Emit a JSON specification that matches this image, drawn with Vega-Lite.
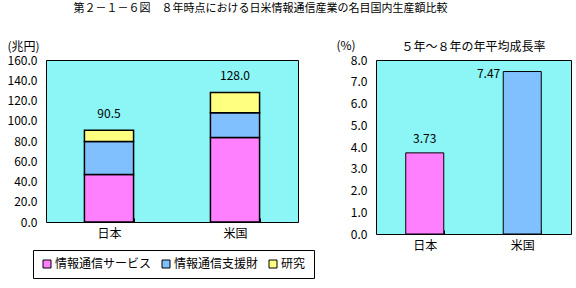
{
  "$schema": "https://vega.github.io/schema/vega-lite/v6.json",
  "padding": {"left": 6, "top": 2, "right": 5, "bottom": 5},
  "background": "white",
  "title": {
    "text": "第２－１－６図　８年時点における日米情報通信産業の名目国内生産額比較",
    "font": "Noto Sans CJK JP",
    "fontSize": 11,
    "fontWeight": "normal",
    "anchor": "start",
    "dx": 67,
    "offset": 25,
    "color": "black"
  },
  "config": {
    "font": "Noto Sans CJK JP",
    "view": {"fill": "#8CF5F5", "stroke": "black", "strokeWidth": 1},
    "axis": {
      "labelFont": "Noto Sans CJK JP",
      "titleFont": "Noto Sans CJK JP",
      "labelFontSize": 12,
      "titleFontSize": 12,
      "titleFontWeight": "normal",
      "labelColor": "black",
      "titleColor": "black",
      "grid": false,
      "domain": false,
      "labelOverlap": false
    },
    "axisY": {"labelOverlap": false}
  },
  "spacing": 20,
  "resolve": {"scale": {"color": "independent", "x": "independent", "y": "independent"}},
  "hconcat": [
    {
      "width": 252,
      "height": 162,
      "layer": [
        {
          "data": {
            "values": [
              {"country": "日本", "category": "情報通信サービス", "value": 47.0},
              {"country": "日本", "category": "情報通信支援財", "value": 32.5},
              {"country": "日本", "category": "研究", "value": 11.0},
              {"country": "米国", "category": "情報通信サービス", "value": 83.5},
              {"country": "米国", "category": "情報通信支援財", "value": 24.5},
              {"country": "米国", "category": "研究", "value": 20.0}
            ]
          },
          "mark": {"type": "bar", "stroke": "black", "strokeWidth": 1.5},
          "encoding": {
            "x": {
              "field": "country", "type": "nominal", "sort": ["日本", "米国"],
              "scale": {"paddingInner": 0.61, "paddingOuter": 0.305},
              "axis": {"title": null, "labelAngle": 0, "ticks": true, "tickBand": "extent", "tickSize": -4, "tickColor": "black", "labelPadding": 10}
            },
            "y": {
              "field": "value", "type": "quantitative", "stack": "zero",
              "scale": {"domain": [0, 160], "nice": false},
              "axis": {
                "values": [0, 20, 40, 60, 80, 100, 120, 140, 160],
                "format": ".1f", "ticks": false, "tickSize": 0, "labelPadding": 9,
                "labelOverlap": false, "labelBound": false, "labelFlush": false,
                "title": "(兆円)", "titleAngle": 0, "titleAlign": "left", "titleBaseline": "middle",
                "titleX": -39, "titleY": -14
              }
            },
            "color": {
              "field": "category", "type": "nominal",
              "sort": ["情報通信サービス", "情報通信支援財", "研究"],
              "scale": {"domain": ["情報通信サービス", "情報通信支援財", "研究"], "range": ["#FF80FF", "#80C0FF", "#FFFF80"]},
              "legend": {
                "title": null, "orient": "none", "direction": "horizontal",
                "legendX": -13, "legendY": 190,
                "strokeColor": "black", "fillColor": "white", "padding": 8,
                "symbolType": "square", "symbolSize": 64, "symbolStrokeColor": "black", "symbolStrokeWidth": 1, "symbolOpacity": 1,
                "labelFont": "Noto Sans CJK JP", "labelFontSize": 12, "labelColor": "black",
                "columnPadding": 8, "labelOffset": 2
              }
            },
            "order": {"field": "category", "sort": "ascending"}
          }
        },
        {
          "data": {
            "values": [
              {"country": "日本", "total": 90.5},
              {"country": "米国", "total": 128.0}
            ]
          },
          "mark": {"type": "text", "dy": -9, "baseline": "bottom", "fontSize": 12, "color": "black"},
          "encoding": {
            "x": {
              "field": "country", "type": "nominal", "sort": ["日本", "米国"],
              "axis": {"title": null, "labelAngle": 0, "ticks": true, "tickBand": "extent", "tickSize": -4, "tickColor": "black", "labelPadding": 10}
            },
            "y": {
              "field": "total", "type": "quantitative",
              "axis": {
                "values": [0, 20, 40, 60, 80, 100, 120, 140, 160],
                "format": ".1f", "ticks": false, "tickSize": 0, "labelPadding": 9,
                "labelOverlap": false, "labelBound": false, "labelFlush": false,
                "title": "(兆円)", "titleAngle": 0, "titleAlign": "left", "titleBaseline": "middle",
                "titleX": -39, "titleY": -14
              }
            },
            "text": {"field": "total", "type": "quantitative", "format": ".1f"}
          }
        }
      ]
    },
    {
      "width": 195,
      "height": 174,
      "title": {"text": "５年～８年の年平均成長率", "fontSize": 12, "fontWeight": "normal", "font": "Noto Sans CJK JP", "offset": -15, "color": "black"},
      "data": {
        "values": [
          {"country": "日本", "rate": 3.73},
          {"country": "米国", "rate": 7.47}
        ]
      },
      "encoding": {
        "x": {
          "field": "country", "type": "nominal", "sort": ["日本", "米国"],
          "scale": {"paddingInner": 0.61, "paddingOuter": 0.305},
          "axis": {"title": null, "labelAngle": 0, "ticks": true, "tickBand": "extent", "tickSize": -4, "tickColor": "black", "labelPadding": 10}
        },
        "y": {
          "field": "rate", "type": "quantitative",
          "scale": {"domain": [0, 8], "nice": false},
          "axis": {
            "values": [0, 1, 2, 3, 4, 5, 6, 7, 8],
            "format": ".1f", "ticks": false, "tickSize": 0, "labelPadding": 9,
            "labelOverlap": false, "labelBound": false, "labelFlush": false,
            "title": "(%)", "titleAngle": 0, "titleAlign": "left", "titleBaseline": "middle",
            "titleX": -40, "titleY": -15
          }
        }
      },
      "layer": [
        {
          "mark": {"type": "bar", "stroke": "black", "strokeWidth": 1},
          "encoding": {
            "color": {
              "field": "country", "type": "nominal",
              "scale": {"domain": ["日本", "米国"], "range": ["#FF80FF", "#80C0FF"]},
              "legend": null
            }
          }
        },
        {
          "transform": [{"filter": "datum.country === '日本'"}],
          "mark": {"type": "text", "dy": -7, "baseline": "bottom", "fontSize": 12, "color": "black"},
          "encoding": {
            "text": {"field": "rate", "type": "quantitative", "format": ".2f"}
          }
        },
        {
          "transform": [{"filter": "datum.country === '米国'"}],
          "mark": {"type": "text", "dx": -22, "dy": 2, "align": "right", "baseline": "middle", "fontSize": 12, "color": "black"},
          "encoding": {
            "text": {"field": "rate", "type": "quantitative", "format": ".2f"}
          }
        }
      ]
    }
  ]
}
